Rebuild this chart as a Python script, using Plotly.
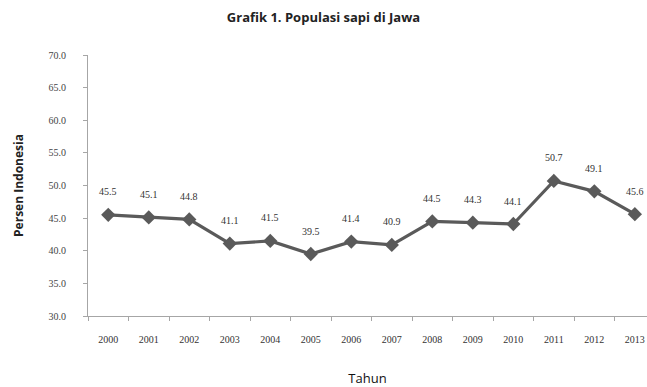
import plotly.graph_objects as go

years = ["2000", "2001", "2002", "2003", "2004", "2005", "2006",
         "2007", "2008", "2009", "2010", "2011", "2012", "2013"]
values = [45.5, 45.1, 44.8, 41.1, 41.5, 39.5, 41.4, 40.9, 44.5, 44.3, 44.1, 50.7, 49.1, 45.6]
y_ticks = [30, 35, 40, 45, 50, 55, 60, 65, 70]

fig = go.Figure()
fig.add_trace(go.Scatter(
    x=years, y=values, mode="lines+markers",
    line=dict(color="#5a5a5a", width=3.2),
    marker=dict(symbol="diamond", size=11, color="#5a5a5a"),
    hoverinfo="skip", showlegend=False,
))
for i, v in enumerate(values):
    fig.add_annotation(x=i, y=v, xref="x", yref="y", text=f"{v:.1f}", showarrow=False,
                       yshift=23, font=dict(family="Liberation Serif", size=10, color="#333333"))

fig.update_layout(
    width=647, height=387,
    margin=dict(l=88, r=0, t=55, b=71),
    paper_bgcolor="white", plot_bgcolor="white",
    title=dict(text="<b>Grafik 1. Populasi sapi di Jawa</b>", x=0.5, xanchor="center",
               y=0.955, yanchor="middle",
               font=dict(family="Open Sans", size=13, color="#222222")),
)
fig.update_xaxes(
    type="category", range=[-0.5, 13.3],
    showline=True, linecolor="#a6a6a6", linewidth=1,
    ticks="outside", tickson="boundaries", ticklen=4, tickcolor="#a6a6a6",
    ticklabelstandoff=14,
    showgrid=False, zeroline=False,
    tickfont=dict(family="Liberation Serif", size=10, color="#333333"),
    title=dict(text="Tahun", font=dict(family="Open Sans", size=13, color="#111111"), standoff=29),
)
fig.update_yaxes(
    range=[30, 70], tickvals=y_ticks, ticktext=[f"{t:.1f}" for t in y_ticks],
    showline=True, linecolor="#a6a6a6", linewidth=1,
    ticks="outside", ticklen=4, tickcolor="#a6a6a6",
    ticklabelstandoff=15,
    showgrid=False, zeroline=False,
    tickfont=dict(family="Liberation Serif", size=10, color="#444444"),
    title=dict(text="<b>Persen Indonesia</b>", font=dict(family="Open Sans", size=12, color="#222222"), standoff=22),
)

fig.write_html("out.html")
